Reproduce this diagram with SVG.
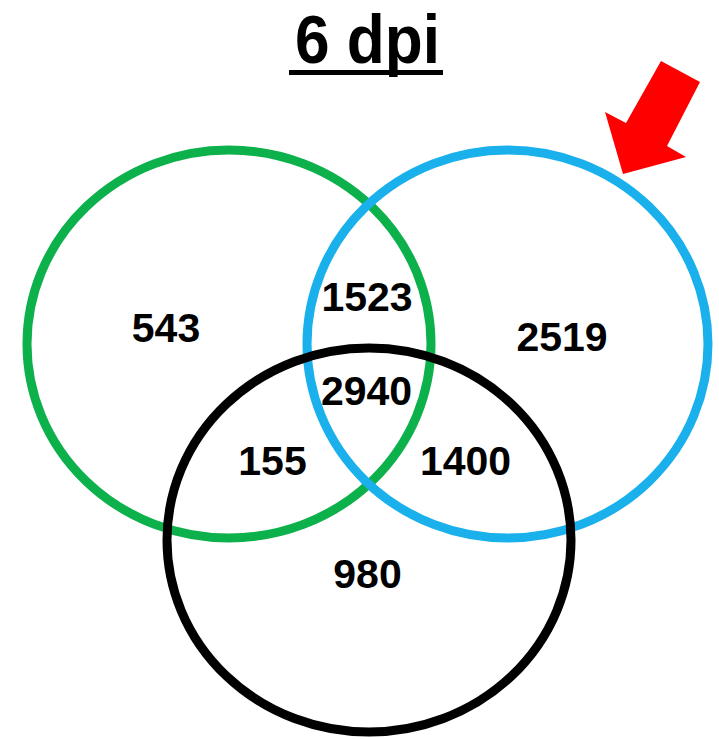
<svg xmlns="http://www.w3.org/2000/svg" width="719" height="739" viewBox="0 0 719 739">
  <style>
    .set { fill: none; stroke-width: 9; }
    .count { font-family: "Liberation Sans", Arial, sans-serif; font-weight: bold; font-size: 41px; fill: #000; text-anchor: middle; }
    .title { font-family: "Liberation Sans", Arial, sans-serif; font-weight: bold; font-size: 68px; fill: #000; }
  </style>
  <rect width="719" height="739" fill="#fff"/>

  <!-- title -->
  <g id="title">
    <text class="title" x="295" y="63" textLength="145" lengthAdjust="spacingAndGlyphs">6 dpi</text>
    <rect x="289" y="70" width="154" height="5" fill="#000"/>
  </g>

  <!-- set outlines -->
  <g id="set-green">
    <ellipse class="set" cx="229" cy="344" rx="202" ry="194" stroke="#0db14b"/>
  </g>
  <g id="set-blue">
    <ellipse class="set" cx="507.5" cy="344" rx="200.5" ry="194" stroke="#19b0ec"/>
  </g>
  <g id="set-black">
    <ellipse class="set" cx="369" cy="540" rx="202" ry="192" stroke="#000"/>
  </g>

  <!-- region counts -->
  <g id="counts">
    <text class="count" x="166" y="342">543</text>
    <text class="count" x="367" y="311">1523</text>
    <text class="count" x="562" y="351">2519</text>
    <text class="count" x="366.5" y="405">2940</text>
    <text class="count" x="272.5" y="475">155</text>
    <text class="count" x="465.5" y="475">1400</text>
    <text class="count" x="367.5" y="588">980</text>
  </g>

  <!-- pointer arrow -->
  <g id="arrow">
    <polygon points="661,61 700,82 667,146 686,157 623,174 605,112 626,123" fill="#ff0000"/>
  </g>
</svg>
